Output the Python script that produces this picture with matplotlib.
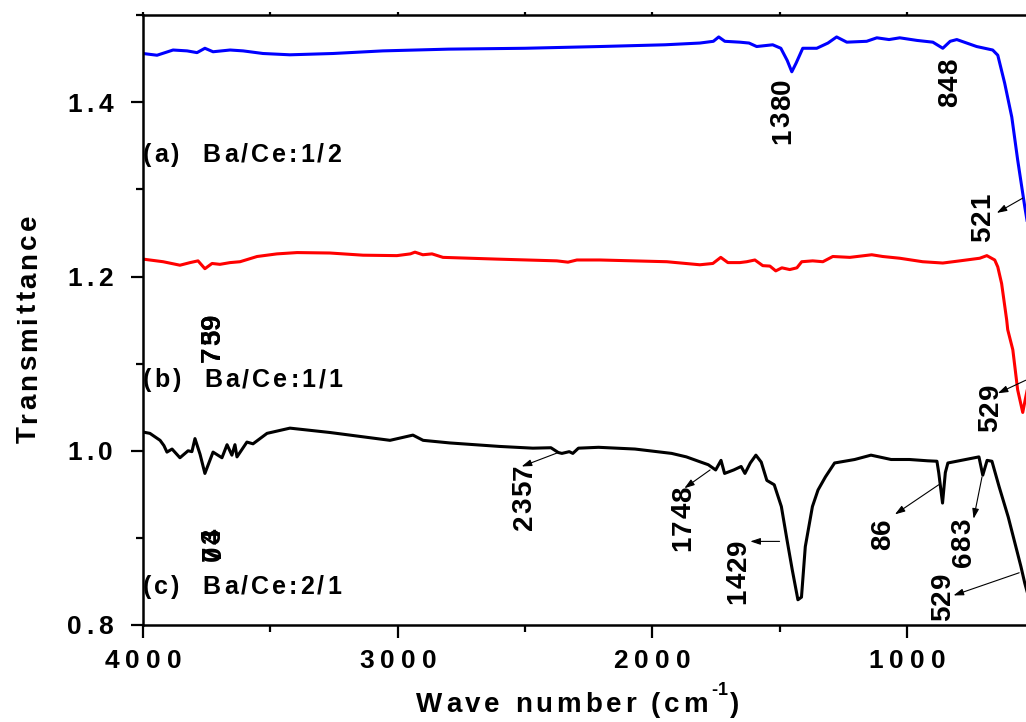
import numpy as np
import matplotlib
matplotlib.use("Agg")
import matplotlib.pyplot as plt
from matplotlib.ticker import MultipleLocator, NullFormatter
from matplotlib import font_manager
from matplotlib.ft2font import FT2Font

plt.rcParams['font.family'] = ['Liberation Sans', 'DejaVu Sans']
plt.rcParams['font.weight'] = 'bold'

# curve (a) Ba/Ce 1/2 - blue
wn_a = [4000, 3945, 3882, 3827, 3788, 3757, 3725, 3658, 3607, 3529, 3423, 3254, 3058,
        2800, 2500, 2206, 1950, 1813, 1760, 1739, 1715, 1656, 1620, 1590, 1527, 1495,
        1470, 1452, 1435, 1409, 1354, 1310, 1276, 1236, 1158, 1118, 1070, 1028, 960,
        898, 859, 830, 804, 726, 663, 643, 616, 588, 565, 537, 520]
t_a = [1.456, 1.454, 1.460, 1.459, 1.457, 1.462, 1.458, 1.460, 1.459, 1.456, 1.4545, 1.456, 1.459,
       1.461, 1.462, 1.464, 1.466, 1.468, 1.470, 1.475, 1.470, 1.469, 1.468, 1.464, 1.466, 1.462,
       1.448, 1.435, 1.445, 1.462, 1.462, 1.468, 1.475, 1.469, 1.470, 1.474, 1.472, 1.474, 1.471,
       1.469, 1.462, 1.470, 1.472, 1.464, 1.460, 1.454, 1.422, 1.383, 1.334, 1.280, 1.25]

# curve (b) Ba/Ce 1/1 - red
wn_b = [4000, 3921, 3855, 3815, 3784, 3757, 3729, 3698, 3658, 3619, 3552, 3474, 3395, 3266,
        3136, 3003, 2950, 2932, 2901, 2865, 2822, 2610, 2375, 2331, 2296, 2206, 1943, 1813,
        1762, 1731, 1703, 1656, 1629, 1597, 1566, 1538, 1515, 1491, 1460, 1432, 1413, 1370,
        1330, 1291, 1224, 1138, 1095, 1028, 938, 859, 792, 714, 686, 655, 643, 628, 608,
        604, 584, 565, 545, 533, 520]
t_b = [1.220, 1.217, 1.213, 1.216, 1.218, 1.209, 1.215, 1.214, 1.216, 1.217, 1.223, 1.226, 1.2275, 1.227,
       1.2245, 1.224, 1.226, 1.228, 1.225, 1.226, 1.222, 1.220, 1.218, 1.2165, 1.219, 1.219, 1.217, 1.2135,
       1.215, 1.222, 1.216, 1.216, 1.217, 1.219, 1.2125, 1.212, 1.2065, 1.210, 1.208, 1.210, 1.217, 1.218,
       1.217, 1.223, 1.222, 1.225, 1.223, 1.221, 1.217, 1.2155, 1.218, 1.221, 1.224, 1.219, 1.211, 1.192, 1.150,
       1.139, 1.116, 1.070, 1.044, 1.062, 1.08]

# curve (c) Ba/Ce 2/1 - black
wn_c = [4000, 3973, 3933, 3918, 3906, 3886, 3855, 3823, 3808, 3796, 3776, 3757, 3725, 3690,
        3670, 3651, 3639, 3631, 3592, 3568, 3513, 3423, 3266, 3030, 2940, 2900, 2795, 2600,
        2469, 2398, 2369, 2355, 2326, 2312, 2290, 2211, 2068, 1924, 1866, 1809, 1780, 1751,
        1730, 1716, 1680, 1651, 1636, 1615, 1593, 1572, 1550, 1521, 1493, 1471, 1450, 1428,
        1414, 1399, 1371, 1349, 1320, 1284, 1205, 1141, 1062, 990, 918, 882, 875, 860, 849,
        839, 717, 702, 685, 666, 638, 602, 566, 552, 537, 520]
t_c = [1.0215, 1.020, 1.012, 1.006, 0.9985, 1.002, 0.992, 1.000, 0.999, 1.014, 0.996, 0.974, 0.9985, 0.992,
       1.007, 0.995, 1.007, 0.993, 1.010, 1.008, 1.020, 1.026, 1.021, 1.012, 1.018, 1.012, 1.009, 1.005,
       1.003, 1.0035, 0.998, 0.997, 0.999, 0.997, 1.003, 1.004, 1.002, 0.997, 0.993, 0.987, 0.984, 0.978,
       0.989, 0.974, 0.978, 0.982, 0.974, 0.986, 0.995, 0.987, 0.966, 0.961, 0.936, 0.898, 0.863, 0.829,
       0.832, 0.890, 0.936, 0.955, 0.970, 0.986, 0.990, 0.995, 0.990, 0.990, 0.9885, 0.988, 0.975, 0.940, 0.975,
       0.986, 0.993, 0.972, 0.989, 0.988, 0.959, 0.924, 0.883, 0.867, 0.848, 0.83]

# peak labels: text, text x, text y, arrow tail (x, y) or None, arrow head (x, y) or None
peak_text = ["1380", "848", "521", "759", "739", "529", "74", "03",
             "2357", "1748", "1429", "86", "683", "529"]
peak_x = [1499, 840, 714, 3737, 3737, 683, 3735, 3735, 2513, 1888, 1672, 1105, 789, 868]
peak_y = [1.390, 1.422, 1.268, 1.130, 1.130, 1.049, 0.892, 0.892, 0.947, 0.922, 0.861, 0.904, 0.894, 0.832]
arrow_from = [None, None, (545, 1.290), None, None, (533, 1.081), None, None,
              (2369, 0.998), (1773, 0.978), (1500, 0.896), (875, 0.961), (705, 0.970), (559, 0.860)]
arrow_to = [None, None, (647, 1.273), None, None, (643, 1.066), None, None,
            (2513, 0.982), (1874, 0.957), (1615, 0.896), (1047, 0.927), (738, 0.922), (817, 0.834)]

sample_labels = ["(a)  Ba/Ce:1/2", "(b)  Ba/Ce:1/1", "(c)  Ba/Ce:2/1"]
sample_y = [1.342, 1.083, 0.846]

xticks = [4000, 3000, 2000, 1000]
xtick_labels = ['4000', '3000', '2000', '1000']
yticks = [0.8, 1.0, 1.2, 1.4]
ytick_labels = ['0.8', '1.0', '1.2', '1.4']

# the original text is letter-spaced, so lay characters out one by one
ft = FT2Font(font_manager.findfont(font_manager.FontProperties(family='Liberation Sans', weight='bold')))


def advances(s, size):
    ft.set_size(size, 72)
    return [ft.load_char(ord(ch)).linearHoriAdvance / 65536 for ch in s]


def spaced(ax, xy, s, size, gap, coords='data', rot=0, align='left', start=None, rise=0.0):
    # xy is the centre of the capitals across the line, align along it
    adv = advances(s, size)
    total = sum(adv) + gap * (len(s) - 1)
    pos = {'left': 0, 'center': -total / 2, 'right': -total}[align] if start is None else start
    cross = -0.358 * size + rise
    for ch, a in zip(s, adv):
        off = (pos, cross) if rot == 0 else (-cross, pos)
        ax.annotate(ch, xy, xycoords=coords, xytext=off, textcoords='offset points',
                    ha='left', va='baseline', rotation=rot, rotation_mode='anchor',
                    fontsize=size, fontweight='bold', annotation_clip=False)
        pos += a + gap
    return pos


fig = plt.figure(figsize=(10.26, 7.22), dpi=100)
ax = fig.add_axes([0.1394, 0.1343, 0.881, 0.8447])

ax.plot(wn_a, t_a, color='#0000ff', lw=2.2)
ax.plot(wn_b, t_b, color='#ff0000', lw=2.2)
ax.plot(wn_c, t_c, color='black', lw=2.2)

for i in range(len(peak_text)):
    spaced(ax, (peak_x[i], peak_y[i]), peak_text[i], 20, 0.8, rot=90, align='center')
    if arrow_from[i] is not None:
        ax.annotate('', xy=arrow_to[i], xytext=arrow_from[i],
                    arrowprops=dict(arrowstyle='-|>,head_length=0.6,head_width=0.2',
                                    color='black', lw=0.8, shrinkA=0, shrinkB=0))

for lab, yy in zip(sample_labels, sample_y):
    spaced(ax, (4000, yy), lab, 18, 2.2)

ax.set_xlim(4000, 450)
ax.set_ylim(0.8, 1.5)
ax.xaxis.set_major_locator(MultipleLocator(1000))
ax.xaxis.set_minor_locator(MultipleLocator(500))
ax.yaxis.set_major_locator(MultipleLocator(0.2))
ax.yaxis.set_minor_locator(MultipleLocator(0.1))
ax.xaxis.set_major_formatter(NullFormatter())
ax.yaxis.set_major_formatter(NullFormatter())
ax.tick_params(which='major', direction='out', length=9, width=1.6)
ax.tick_params(which='minor', direction='out', length=5, width=1.6)
ax.tick_params(axis='x', which='both', top=True)
for t in ax.xaxis.get_major_ticks() + ax.xaxis.get_minor_ticks():
    t.tick2line.set_markersize(2)
for sp in ax.spines.values():
    sp.set_linewidth(1.8)

# tick labels
for v, lab in zip(xticks, xtick_labels):
    spaced(ax, (v, 722 - 659), lab, 19, 4.5, coords=('data', 'figure pixels'), align='center')
for v, lab in zip(yticks, ytick_labels):
    spaced(ax, (113, v), lab, 19, 3.3, coords=('figure pixels', 'data'), align='right')

# axis titles
gap = 2.7
w1 = sum(advances('Wave number (cm', 20)) + gap * 15
w2 = sum(advances('-1', 13)) + 1.0
w3 = sum(advances(')', 20))
x0 = -(w1 + w2 + w3) / 2
p = spaced(ax, (577, 722 - 702), 'Wave number (cm', 20, gap, coords='figure pixels', start=x0)
p = spaced(ax, (577, 722 - 702), '-1', 13, 0.5, coords='figure pixels', start=p, rise=9.5)
spaced(ax, (577, 722 - 702), ')', 20, gap, coords='figure pixels', start=p + 0.5)
spaced(ax, (26, 722 - 329), 'Transmittance', 20, 2.3, coords='figure pixels', rot=90, align='center')

fig.savefig('out.png', dpi=100)
